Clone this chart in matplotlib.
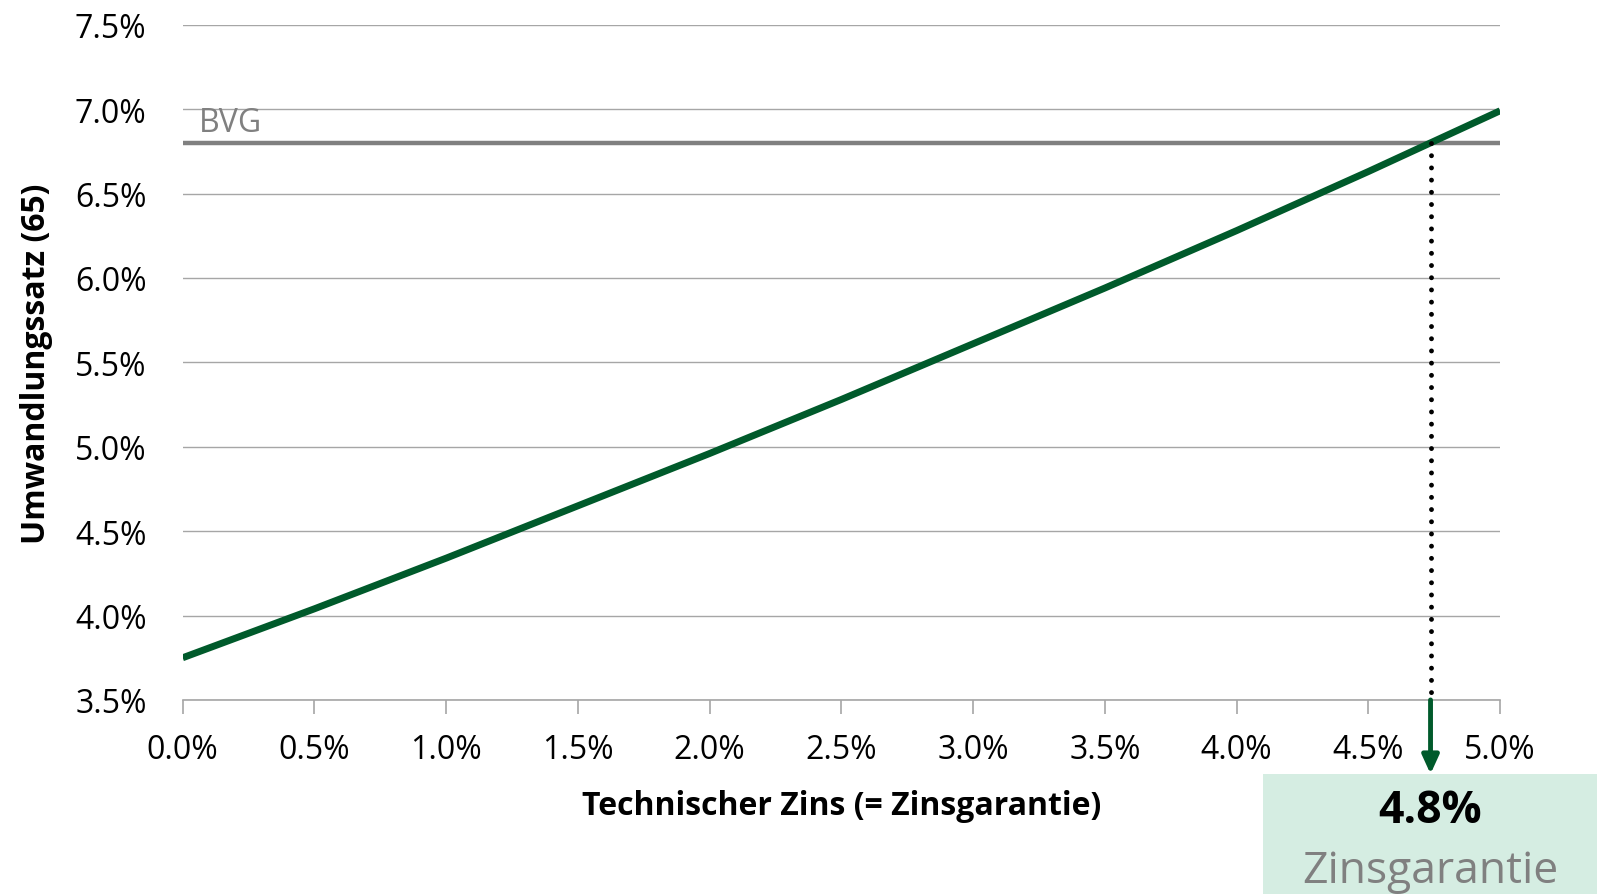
import matplotlib
matplotlib.use('Agg')
import matplotlib.pyplot as plt
from matplotlib.patches import Rectangle
from matplotlib.ticker import FuncFormatter, MultipleLocator
import numpy as np

plt.rcParams['font.family'] = ['Open Sans', 'DejaVu Sans']

# Technischer Zins (%) vs. Umwandlungssatz mit 65 (%)
zins = [0.0, 0.5, 1.0, 1.5, 2.0, 2.5, 3.0, 3.5, 4.0, 4.5, 5.0]
umwandlungssatz = [3.75, 4.04, 4.34, 4.65, 4.96, 5.28, 5.61, 5.94, 6.28, 6.63, 6.99]
bvg_satz = 6.8
label_zins = "4.8%"

green = '#005a2b'
grey = '#808080'

fig = plt.figure(figsize=(15.97, 8.95), dpi=100)
ax = fig.add_axes([0.1144, 0.2168, 0.8249, 0.7545])

ax.plot(zins, umwandlungssatz, color=green, lw=5, solid_capstyle='butt', zorder=4)
ax.axhline(bvg_satz, color=grey, lw=3.2, zorder=3)
ax.text(0.06, bvg_satz + 0.02, 'BVG', color=grey, fontsize=23, va='bottom', ha='left')

# where the curve reaches the BVG rate
x_cross = np.interp(bvg_satz, umwandlungssatz, zins)
ax.plot([x_cross, x_cross], [bvg_satz, 3.5], color='black', lw=3.5,
        linestyle=(0, (0.01, 2.5)), dash_capstyle='round', zorder=5)

ax.set_xlim(0, 5)
ax.set_ylim(3.5, 7.5)
ax.xaxis.set_major_locator(MultipleLocator(0.5))
ax.yaxis.set_major_locator(MultipleLocator(0.5))
fmt = FuncFormatter(lambda v, p: f'{v:.1f}%')
ax.xaxis.set_major_formatter(fmt)
ax.yaxis.set_major_formatter(fmt)
ax.grid(axis='y', color='#a6a6a6', lw=1)
ax.set_axisbelow(True)
for s in ['top', 'right', 'left']:
    ax.spines[s].set_visible(False)
ax.spines['bottom'].set_color('#a6a6a6')
ax.spines['bottom'].set_linewidth(1.2)
ax.tick_params(axis='x', length=10, width=1.2, color='#a6a6a6', labelsize=23, pad=14)
ax.tick_params(axis='y', length=0, labelsize=23, pad=26)

ax.set_xlabel('Technischer Zins (= Zinsgarantie)', fontsize=23, fontweight='bold', labelpad=16)
ax.set_ylabel('Umwandlungssatz (65)', fontsize=23, fontweight='bold', labelpad=16)

# result box below the axis
box_bottom = 1 - 775 / 895
fig.patches.append(Rectangle((0.791, 0), 0.209, box_bottom, transform=fig.transFigure,
                             facecolor='#d5ede2', edgecolor='none', zorder=-1))
ax.annotate('', xy=(x_cross, box_bottom), xycoords=('data', 'figure fraction'),
            xytext=(x_cross, 3.5), textcoords='data',
            arrowprops=dict(arrowstyle='-|>,head_width=0.5,head_length=1.1',
                            color=green, lw=3.5, shrinkA=0, shrinkB=0),
            annotation_clip=False)
ax.annotate(label_zins, xy=(x_cross, 1 - 812 / 895), xycoords=('data', 'figure fraction'),
            ha='center', va='center', fontsize=32, fontweight='bold', color='black',
            annotation_clip=False)
ax.annotate('Zinsgarantie', xy=(x_cross, 1 - 872 / 895), xycoords=('data', 'figure fraction'),
            ha='center', va='center', fontsize=32, color=grey, annotation_clip=False)

fig.savefig('out.png', dpi=100)
